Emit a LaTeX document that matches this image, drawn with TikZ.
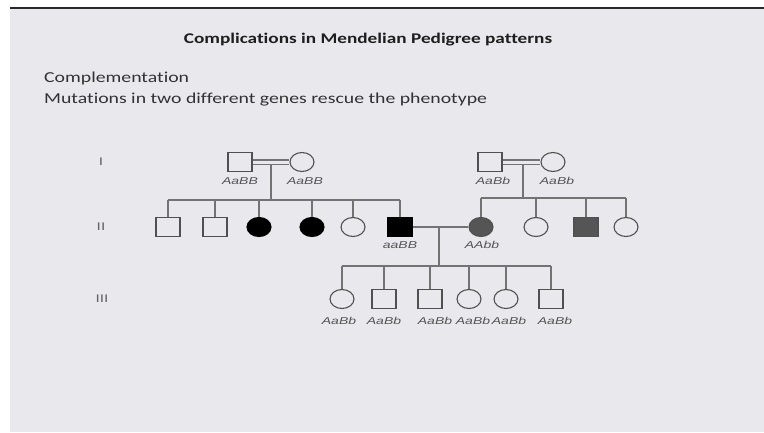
\documentclass[tikz,border=0pt]{standalone}
\usepackage{fontspec}
\setmainfont{Carlito}[Ligatures=NoCommon]
\newfontfamily\arialfont{Liberation Sans}
\usetikzlibrary{shapes.geometric}
\definecolor{panel}{RGB}{233,232,237}
\definecolor{rulecol}{RGB}{40,40,40}
\definecolor{linegray}{RGB}{115,115,115}
\definecolor{shapeline}{RGB}{80,80,80}
\definecolor{midgray}{RGB}{85,85,85}
\definecolor{genogray}{RGB}{85,85,85}
\definecolor{numgray}{RGB}{100,100,100}
\definecolor{titlecol}{RGB}{30,30,30}
\definecolor{bodycol}{RGB}{50,50,50}
% horizontally widened text
\newcommand{\widetext}[1]{\scalebox{1.3}[1]{#1}}
\newcommand{\widegeno}[1]{\scalebox{1.4}[1]{#1}}
\begin{document}
\begin{tikzpicture}[x=1pt,y=-1pt,
  male/.style={rectangle,draw=shapeline,line width=1.1pt,minimum width=24pt,minimum height=19pt,inner sep=0pt},
  female/.style={ellipse,draw=shapeline,line width=1.1pt,minimum width=24pt,minimum height=19pt,inner sep=0pt},
  affected/.style={fill=black,draw=black},
  partial/.style={fill=midgray},
  link/.style={draw=linegray,line width=1.1pt},
  geno/.style={font=\arialfont\itshape\fontsize{10}{12}\selectfont,text=genogray,inner sep=0pt},
  gen/.style={font=\arialfont\fontsize{11}{13}\selectfont,text=numgray,inner sep=0pt},
]
% page and panel
\useasboundingbox (0,0) rectangle (764,432);
\fill[white] (0,0) rectangle (764,432);
\fill[panel] (10,9) rectangle (764,432);
\draw[rulecol,line width=2pt] (10,7.5) -- (764,7.5);

% headings
\node[text=titlecol,font=\bfseries\fontsize{14.8}{17}\selectfont] (title) at (368,40) {\widetext{Complications in Mendelian Pedigree patterns}};
\node[anchor=west,text=bodycol,font=\fontsize{15.2}{17}\selectfont,inner sep=0pt] (sub1) at (44,78) {\widetext{Complementation}};
\node[anchor=west,text=bodycol,font=\fontsize{15.2}{17}\selectfont,inner sep=0pt] (sub2) at (44,100) {\widetext{Mutations in two different genes rescue the phenotype}};

% generation numerals
\node[gen] (gI) at (101,162) {\widegeno{I}};
\node[gen] (gII) at (101,227) {\widegeno{II}};
\node[gen] (gIII) at (102,299) {\widegeno{III}};

% generation I
\node[male] (I1) at (240,162) {};
\node[female] (I2) at (302,162) {};
\node[male] (I3) at (490,162) {};
\node[female] (I4) at (553,162) {};
\node[geno] (lI1) at (240,181) {\widegeno{AaBB}};
\node[geno] (lI2) at (305,181) {\widegeno{AaBB}};
\node[geno] (lI3) at (493,181) {\widegeno{AaBb}};
\node[geno] (lI4) at (557,181) {\widegeno{AaBb}};

% generation II
\node[male] (A1) at (168,227) {};
\node[male] (A2) at (215,227) {};
\node[female,affected] (A3) at (259,227) {};
\node[female,affected] (A4) at (312,227) {};
\node[female] (A5) at (353,227) {};
\node[male,affected] (A6) at (400,227) {};
\node[female,partial] (B1) at (481,227) {};
\node[female] (B2) at (536,227) {};
\node[male,partial] (B3) at (586,227) {};
\node[female] (B4) at (626,227) {};
\node[geno] (lA6) at (400,245) {\widegeno{aaBB}};
\node[geno] (lB1) at (482,245) {\widegeno{AAbb}};

% generation III
\node[female] (C1) at (342,299) {};
\node[male] (C2) at (384,299) {};
\node[male] (C3) at (430,299) {};
\node[female] (C4) at (469,299) {};
\node[female] (C5) at (506,299) {};
\node[male] (C6) at (551,299) {};
\foreach \n/\x in {1/339,2/384,3/435,4/473,5/509,6/555}
  \node[geno] (lC\n) at (\x,321) {\widegeno{AaBb}};

% matings (double lines between the founding couples)
\draw[link] ([yshift=2pt]I1.east) -- ([yshift=2pt]I2.west);
\draw[link] ([yshift=-2.5pt]I1.east) -- ([yshift=-2.5pt]I2.west);
\draw[link] ([yshift=2pt]I3.east) -- ([yshift=2pt]I4.west);
\draw[link] ([yshift=-2.5pt]I3.east) -- ([yshift=-2.5pt]I4.west);
\draw[link] (A6.east) -- (B1.west);

% descent lines
\coordinate (mL) at (271,164.5);
\coordinate (sL) at (271,200);
\coordinate (mR) at (523,164.5);
\coordinate (sR) at (523,198);
\coordinate (mC) at (439,227);
\coordinate (sC) at (439,266);
\draw[link] (mL) -- (sL);
\draw[link] (mR) -- (sR);
\draw[link] (mC) -- (sC);

% sibship lines and drop lines
\draw[link] (A1.north |- sL) -- (A6.north |- sL);
\foreach \c in {A1,A2,A3,A4,A5,A6}
  \draw[link] (\c.north |- sL) -- (\c.north);
\draw[link] (B1.north |- sR) -- (B4.north |- sR);
\foreach \c in {B1,B2,B3,B4}
  \draw[link] (\c.north |- sR) -- (\c.north);
\draw[link] (C1.north |- sC) -- (C6.north |- sC);
\foreach \c in {C1,C2,C3,C4,C5,C6}
  \draw[link] (\c.north |- sC) -- (\c.north);
\end{tikzpicture}
\end{document}
